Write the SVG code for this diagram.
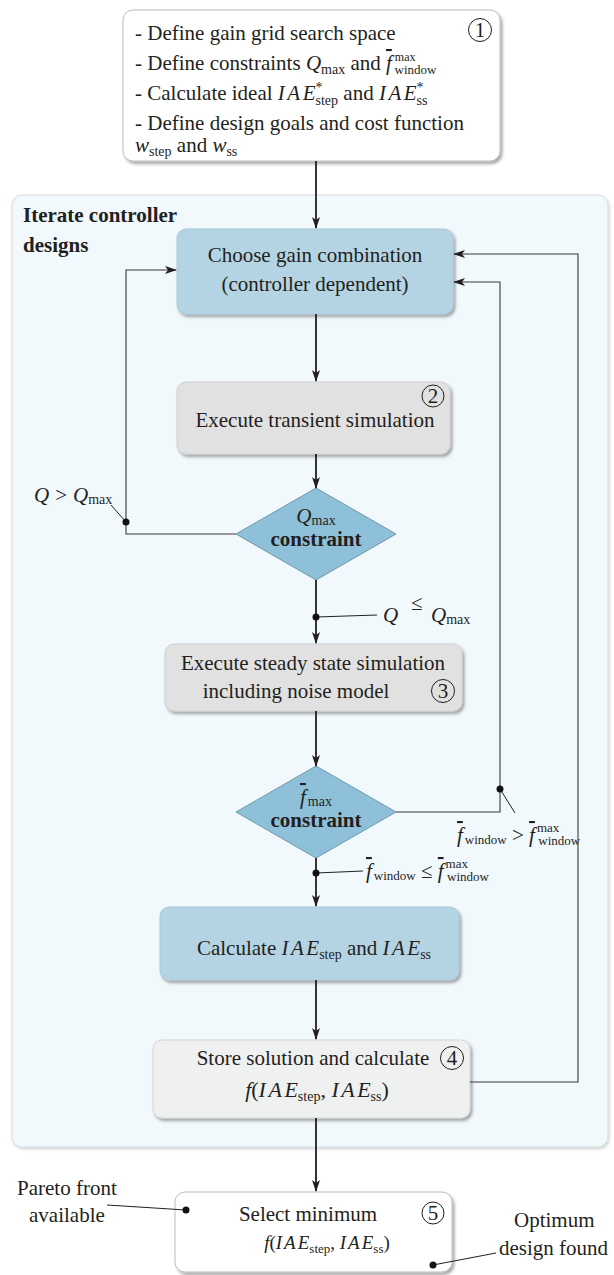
<svg xmlns="http://www.w3.org/2000/svg" width="614" height="1275" viewBox="0 0 614 1275">
<defs>
<filter id="sh" x="-10%" y="-10%" width="125%" height="130%">
<feDropShadow dx="2" dy="2.5" stdDeviation="1.5" flood-color="#000" flood-opacity="0.35"/>
</filter>
<filter id="sh2" x="-5%" y="-5%" width="110%" height="110%">
<feDropShadow dx="1" dy="1.5" stdDeviation="1.5" flood-color="#000" flood-opacity="0.2"/>
</filter>
<marker id="ah" markerWidth="12" markerHeight="8" refX="11" refY="4" orient="auto" markerUnits="userSpaceOnUse">
<path d="M0,0 L12,4 L0,8 L3,4 z" fill="#231f20"/>
</marker>
</defs>
<style>
.t{font-family:"Liberation Serif","DejaVu Serif",serif;font-size:21px;fill:#231f20}
.m{font-style:italic}
.ia{font-style:italic;letter-spacing:2.5px}
.s{font-size:14px}
.ss{font-size:13px}
.sx{font-size:12px}
.b{font-weight:bold}
.c{text-anchor:middle}
.ob{text-decoration:overline}
.ln{fill:none;stroke:#231f20;stroke-width:1.8}
.fb{fill:none;stroke:#3a3a3a;stroke-width:1.1}
.ld{fill:none;stroke:#231f20;stroke-width:1}
.dot{fill:#111}
.circ{fill:none;stroke:#231f20;stroke-width:1}
</style>

<g id="container">
<rect x="12" y="195" width="596" height="952" rx="10" fill="#f2f9fd" stroke="#d6dde1" stroke-width="1" filter="url(#sh2)"/>
<text class="t b" x="23" y="222">Iterate controller</text>
<text class="t b" x="23" y="252">designs</text>
</g>

<g id="box1">
<rect x="123" y="10" width="377" height="151" rx="10" fill="#fff" stroke="#bdbdbd" filter="url(#sh)"/>
<text class="t" x="135" y="40">- Define gain grid search space</text>
<text class="t" x="135" y="70">- Define constraints <tspan class="m">Q</tspan><tspan class="s" dy="4">max</tspan><tspan dy="-4"> and </tspan><tspan class="m ob">f</tspan><tspan class="sx" dx="3" dy="-9">max</tspan><tspan class="ss" dx="-21" dy="13">window</tspan></text>
<text class="t" x="135" y="100">- Calculate ideal <tspan class="ia">IA</tspan><tspan class="m">E</tspan><tspan class="s" dy="-8">*</tspan><tspan class="s" dx="-7" dy="13">step</tspan><tspan dy="-5"> and </tspan><tspan class="ia">IA</tspan><tspan class="m">E</tspan><tspan class="s" dy="-8">*</tspan><tspan class="s" dx="-7" dy="13">ss</tspan></text>
<text class="t" x="135" y="130">- Define design goals and cost function</text>
<text class="t" x="135" y="152"><tspan class="m">w</tspan><tspan class="s" dy="4">step</tspan><tspan dy="-4"> and </tspan><tspan class="m">w</tspan><tspan class="s" dy="4">ss</tspan></text>
<circle class="circ" cx="480" cy="30" r="11.5"/>
<text class="t c" x="480" y="37">1</text>
</g>

<g id="choose">
<rect x="177" y="229" width="276" height="85" rx="9" fill="#b4d4e4" stroke="#a9c8d8" filter="url(#sh)"/>
<text class="t c" x="315" y="262">Choose gain combination</text>
<text class="t c" x="315" y="291">(controller dependent)</text>
</g>

<g id="transient">
<rect x="177" y="382" width="273" height="72" rx="9" fill="#e1e1e1" stroke="#cfcfcf" filter="url(#sh)"/>
<text class="t c" x="315" y="427">Execute transient simulation</text>
<circle class="circ" cx="433" cy="396" r="11"/>
<text class="t c" x="433" y="403">2</text>
</g>

<g id="qdiamond">
<polygon points="316,488 396,534 316,580 236,534" fill="#8ec1d9" stroke="#6f96a8" stroke-width="1"/>
<text class="t c" x="316" y="523"><tspan class="m">Q</tspan><tspan class="s" dy="2">max</tspan></text>
<text class="t b c" x="316" y="546">constraint</text>
</g>

<g id="steady">
<rect x="165" y="644" width="297" height="67" rx="9" fill="#e1e1e1" stroke="#cfcfcf" filter="url(#sh)"/>
<text class="t c" x="313" y="670">Execute steady state simulation</text>
<text class="t c" x="296" y="698">including noise model</text>
<circle class="circ" cx="443" cy="691" r="11.5"/>
<text class="t c" x="443" y="698">3</text>
</g>

<g id="fdiamond">
<polygon points="316,766 396,812 316,858 236,812" fill="#8ec1d9" stroke="#6f96a8" stroke-width="1"/>
<text class="t c" x="316" y="804"><tspan class="m ob">f</tspan><tspan class="s" dx="2" dy="2">max</tspan></text>
<text class="t b c" x="316" y="827">constraint</text>
</g>

<g id="calc">
<rect x="160" y="907" width="299" height="73" rx="9" fill="#b4d4e4" stroke="#a9c8d8" filter="url(#sh)"/>
<text class="t c" x="314" y="955">Calculate <tspan class="ia">IA</tspan><tspan class="m">E</tspan><tspan class="s" dy="4">step</tspan><tspan dy="-4"> and </tspan><tspan class="ia">IA</tspan><tspan class="m">E</tspan><tspan class="s" dy="4">ss</tspan></text>
</g>

<g id="store">
<rect x="153" y="1040" width="317" height="78" rx="9" fill="#eff0f0" stroke="#d4d4d4" filter="url(#sh)"/>
<text class="t c" x="313" y="1065">Store solution and calculate</text>
<circle class="circ" cx="452" cy="1058" r="11.5"/>
<text class="t c" x="452" y="1065">4</text>
<text class="t c" x="317" y="1097" style="font-size:22px"><tspan class="m">f</tspan>(<tspan class="ia">IA</tspan><tspan class="m">E</tspan><tspan class="s" dy="4">step</tspan><tspan dy="-4">, </tspan><tspan class="ia">IA</tspan><tspan class="m">E</tspan><tspan class="s" dy="4">ss</tspan><tspan dy="-4">)</tspan></text>
</g>

<g id="select">
<rect x="175" y="1192" width="277" height="80" rx="10" fill="#fff" stroke="#bdbdbd" filter="url(#sh)"/>
<text class="t c" x="308" y="1221">Select minimum</text>
<circle class="circ" cx="433" cy="1213" r="11"/>
<text class="t c" x="433" y="1220">5</text>
<text class="t c" x="327" y="1249" style="font-size:19px"><tspan class="m">f</tspan>(<tspan class="m" style="letter-spacing:2px">IA</tspan><tspan class="m">E</tspan><tspan style="font-size:13px" dy="4">step</tspan><tspan dy="-4">, </tspan><tspan class="m" style="letter-spacing:2px">IA</tspan><tspan class="m">E</tspan><tspan style="font-size:13px" dy="4">ss</tspan><tspan dy="-4">)</tspan></text>
</g>

<g id="labels">
<text class="t" x="34" y="502"><tspan class="m">Q</tspan><tspan dx="6">&gt;</tspan><tspan class="m" dx="6">Q</tspan><tspan class="s" dy="2">max</tspan></text>
<text class="t" x="383" y="622"><tspan class="m">Q</tspan></text>
<text class="t" x="411" y="610">≤</text>
<text class="t" x="431" y="622"><tspan class="m">Q</tspan><tspan class="s" dy="2">max</tspan></text>
<text class="t" x="457" y="842"><tspan class="m ob">f</tspan><tspan class="ss" dx="2" dy="2">window</tspan><tspan dy="-2"> &gt; </tspan><tspan class="m ob">f</tspan><tspan class="ss" dx="2" dy="-10">max</tspan><tspan class="ss" dx="-21" dy="13">window</tspan></text>
<text class="t" x="366" y="878"><tspan class="m ob">f</tspan><tspan class="ss" dx="2" dy="2">window</tspan><tspan dy="-2"> ≤ </tspan><tspan class="m ob">f</tspan><tspan class="ss" dx="2" dy="-10">max</tspan><tspan class="ss" dx="-21" dy="13">window</tspan></text>
<text class="t" x="17" y="1195">Pareto front</text>
<text class="t" x="29" y="1222">available</text>
<text class="t" x="514" y="1227">Optimum</text>
<text class="t" x="499" y="1255">design found</text>
</g>

<g id="connectors">
<line class="ln" x1="316" y1="161" x2="316" y2="228" marker-end="url(#ah)"/>
<line class="ln" x1="316" y1="314" x2="316" y2="381" marker-end="url(#ah)"/>
<line class="ln" x1="316" y1="454" x2="316" y2="488" marker-end="url(#ah)"/>
<line class="ln" x1="316" y1="580" x2="316" y2="643" marker-end="url(#ah)"/>
<line class="ln" x1="316" y1="711" x2="316" y2="766" marker-end="url(#ah)"/>
<line class="ln" x1="316" y1="858" x2="316" y2="906" marker-end="url(#ah)"/>
<line class="ln" x1="316" y1="980" x2="316" y2="1039" marker-end="url(#ah)"/>
<line class="ln" x1="316" y1="1118" x2="316" y2="1191" marker-end="url(#ah)"/>
<polyline class="fb" points="236,534 126,534 126,270 176,270" marker-end="url(#ah)"/>
<polyline class="fb" points="396,812 500,812 500,282 454,282" marker-end="url(#ah)"/>
<polyline class="fb" points="470,1082 578,1082 578,254 454,254" marker-end="url(#ah)"/>
<line class="ld" x1="126" y1="522" x2="111" y2="505"/>
<line class="ld" x1="316" y1="617" x2="377" y2="615"/>
<line class="ld" x1="500" y1="789" x2="515" y2="813"/>
<line class="ld" x1="316" y1="873" x2="363" y2="871"/>
<line class="ld" x1="186" y1="1210" x2="107" y2="1205"/>
<line class="ld" x1="433" y1="1265" x2="496" y2="1253"/>
<circle class="dot" cx="126" cy="522" r="3.5"/>
<circle class="dot" cx="316" cy="617" r="3.5"/>
<circle class="dot" cx="500" cy="789" r="3.5"/>
<circle class="dot" cx="316" cy="873" r="3.5"/>
<circle class="dot" cx="186" cy="1210" r="3.5"/>
<circle class="dot" cx="433" cy="1265" r="3.5"/>
</g>
</svg>
